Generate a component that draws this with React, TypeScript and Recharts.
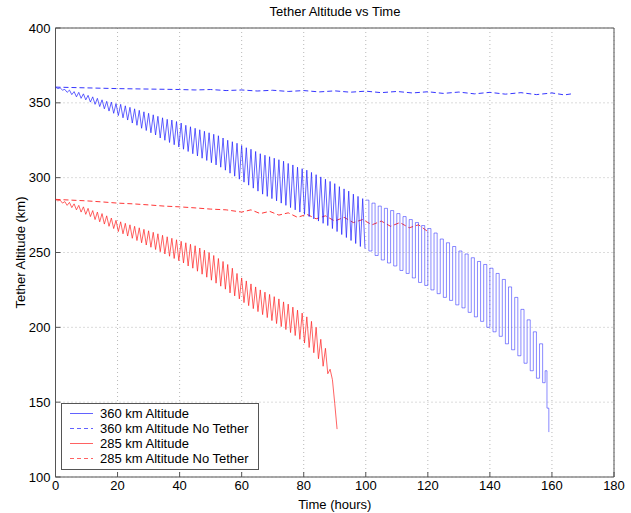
import {
  LineChart, Line, XAxis, YAxis, CartesianGrid, ReferenceArea, Label,
} from "recharts";

const FONT = '"Liberation Sans", Arial, Helvetica, sans-serif';

const X_TICKS = [0, 20, 40, 60, 80, 100, 120, 140, 160, 180];
const Y_TICKS = [100, 150, 200, 250, 300, 350, 400];

// orbital oscillation sampled every 0.75 h (crest, trough, crest, ...)
const SAMPLE_HOURS = 0.75;

// 360 km with tether, 0 – 99.75 h
const tether360Early = [
  360.5, 359.5, 360, 358.5, 359, 357, 358.5, 355.5, 357.5, 354,
  357, 353, 356, 352, 355, 350.5, 354, 349, 353, 347.5,
  352, 346, 351, 344.5, 350.5, 343, 349.5, 341.5, 349, 340,
  348, 338.5, 347, 336.5, 346, 335, 345, 333, 344, 331.5,
  343, 330, 342, 328.5, 341, 326.5, 340, 325, 339, 323.5,
  338.5, 322, 337.5, 320.5, 336.5, 319, 335, 317.5, 334, 316,
  333, 314.5, 332, 313, 331, 311.5, 330, 310, 329, 308.5,
  328, 307, 326.5, 305, 325, 303, 324, 301, 323, 299,
  321.5, 297, 320, 295, 319, 293, 317.5, 291, 316, 289,
  315, 287.5, 314, 286, 313, 284.5, 312, 283, 311, 281.5,
  309.5, 280, 308.5, 278.5, 307, 277, 306, 275.5, 305, 274,
  303.5, 272.5, 302, 271, 300.5, 269.5, 299, 268, 297.5, 266,
  296, 264, 294, 262, 292.5, 260, 291, 258, 289, 256,
  287.5, 254, 286, 252.5,
];

// 360 km with tether, 100 h to re-entry (coarser output, square-wave look)
const tether360Late: [number, number][] = [
  [100, 285], [101, 251], [102, 283], [103, 248], [104, 281], [105, 245],
  [106, 279.5], [107, 243], [108, 278], [109, 241], [110, 276], [111, 238],
  [112, 274], [113, 236], [114, 272], [115, 233], [116, 270], [117, 230],
  [118, 268], [119, 228], [120, 266], [121, 225], [122, 263], [123, 222.5],
  [124, 259], [125, 220], [126, 256.5], [127, 218], [128, 254], [129, 215],
  [130, 251], [131, 213], [132, 249], [133, 210], [134, 246.5], [135, 207],
  [136, 244], [137, 204], [138, 242], [139, 200], [140, 239.5], [141, 197],
  [142, 236], [143, 194], [144, 232], [145, 189], [146, 227], [147, 185],
  [148, 220], [149, 181], [150, 212], [151, 176], [152, 205], [153, 171],
  [154, 197], [155, 166], [156, 189], [157, 163], [157.8, 171], [158.4, 146],
  [159, 130],
];

// 285 km with tether, 0 – 90.75 h
const tether285 = [
  285.5, 284.5, 285, 283, 284, 281.5, 283.5, 280, 282.5, 278.5,
  281.5, 277, 280.5, 275.5, 279.5, 274, 278, 272, 277, 270.5,
  276, 269, 274.5, 267.5, 273, 266, 271.5, 264, 270.5, 262.5,
  269.5, 261, 268.5, 259.5, 267.5, 258, 266.5, 256.5, 265.5, 255,
  264.5, 253.5, 263.5, 252, 262.5, 250.5, 261.5, 249, 260.5, 247.5,
  259.5, 246, 258.5, 244.5, 257.5, 243, 256.5, 241, 255.5, 239.5,
  254.5, 237.5, 253, 235.5, 251.5, 233.5, 250, 231.5, 248, 229.5,
  246, 227.5, 244, 225.5, 242, 223, 239.5, 221, 236, 219,
  233, 216.5, 231, 214.5, 229, 212.5, 227, 210.5, 225, 208.5,
  223.5, 206.5, 222, 204.5, 220.5, 202.5, 219, 200.5, 217, 198.5,
  215.5, 196.5, 213.5, 194.5, 211.5, 192, 209.5, 189.5, 207, 186.5,
  204, 183, 200, 179, 192, 174, 186, 169, 172, 165,
  149, 132,
];

const noTether360: [number, number][] = [
  [0, 360.5], [10, 360], [20, 359.5], [30, 359.2], [40, 358.9], [45, 358.6],
  [50, 358.9], [55, 358.2], [60, 358.6], [65, 357.9], [70, 358.4], [75, 357.6],
  [80, 358.2], [85, 357.3], [90, 358], [95, 357.1], [100, 357.8], [105, 356.8],
  [110, 357.6], [115, 356.6], [120, 357.4], [125, 356.3], [130, 357.2], [135, 356],
  [140, 357], [145, 355.8], [150, 356.8], [155, 355.5], [160, 356.6], [164, 355.3],
  [167, 356.2],
];

const noTether285: [number, number][] = [
  [0, 285.5], [5, 285], [10, 284.5], [15, 283.8], [20, 283], [25, 282.5],
  [30, 281.8], [35, 281], [40, 280.5], [45, 279.8], [50, 279], [55, 278.5],
  [60, 277], [63, 278.5], [66, 276], [69, 277.5], [72, 275], [75, 276.5],
  [78, 273.5], [81, 275.5], [84, 272.5], [87, 274.5], [90, 271], [93, 273.5],
  [96, 270], [99, 272], [102, 268.5], [105, 271], [108, 267.5], [111, 270],
  [114, 266.5], [117, 268.5], [120, 264],
];

const sampled = (alts: number[]) => alts.map((alt, i) => ({ t: i * SAMPLE_HOURS, alt }));
const pairs = (rows: [number, number][]) => rows.map(([t, alt]) => ({ t, alt }));

const BLUE = "#1f1fff";
const RED = "#ff2020";
const FRAME = "#555";

const LEGEND = [
  { label: "360 km Altitude", color: BLUE, dash: undefined },
  { label: "360 km Altitude No Tether", color: BLUE, dash: "4 3" },
  { label: "285 km Altitude", color: RED, dash: undefined },
  { label: "285 km Altitude No Tether", color: RED, dash: "4 3" },
];

export default function App() {
  return (
    <div style={{ position: "absolute", left: 0, top: 0, width: 631, height: 513, background: "#fff", fontFamily: FONT }}>
      <div style={{ position: "absolute", left: 55, width: 560, top: 4, textAlign: "center", fontSize: 13, color: "#000" }}>
        Tether Altitude vs Time
      </div>
      <LineChart width={631} height={513} margin={{ top: 28, right: 17, bottom: 0, left: 10 }}>
        <CartesianGrid stroke="#b8b8b8" strokeDasharray="1 3" />
        <XAxis dataKey="t" type="number" domain={[0, 180]} ticks={X_TICKS} allowDataOverflow
               height={36} axisLine={false} tickLine={{ stroke: FRAME }} tickSize={-5} tickMargin={9}
               tick={{ fill: "#000", fontSize: 13, fontFamily: FONT }}>
          <Label value="Time (hours)" position="insideBottom" offset={4}
                 style={{ fill: "#000", fontSize: 13, fontFamily: FONT }} />
        </XAxis>
        <YAxis type="number" domain={[100, 400]} ticks={Y_TICKS} allowDataOverflow
               width={45.5} axisLine={false} tickLine={{ stroke: FRAME }} tickSize={-5} tickMargin={10}
               tick={{ fill: "#000", fontSize: 13, fontFamily: FONT }}>
          <Label value="Tether Altitude (km)" angle={-90} position="insideLeft" offset={10}
                 style={{ fill: "#000", fontSize: 13, fontFamily: FONT, textAnchor: "middle" }} />
        </YAxis>
        <ReferenceArea x1={0} x2={180} y1={100} y2={400} fill="none" stroke={FRAME} strokeWidth={1} />
        <Line data={pairs(noTether360)} dataKey="alt" stroke={BLUE} strokeWidth={0.9}
              strokeDasharray="5 3" dot={false} isAnimationActive={false} />
        <Line data={pairs(noTether285)} dataKey="alt" stroke={RED} strokeWidth={0.9}
              strokeDasharray="5 3" dot={false} isAnimationActive={false} />
        <Line data={sampled(tether360Early)} dataKey="alt" stroke={BLUE} strokeWidth={0.7}
              dot={false} isAnimationActive={false} />
        <Line data={pairs(tether360Late)} dataKey="alt" type="stepAfter" stroke={BLUE} strokeWidth={0.7}
              strokeOpacity={0.75} dot={false} isAnimationActive={false} />
        <Line data={sampled(tether285)} dataKey="alt" stroke={RED} strokeWidth={0.7}
              dot={false} isAnimationActive={false} />
      </LineChart>
      <div style={{ position: "absolute", left: 61, top: 403, width: 196, height: 65, border: `1px solid ${FRAME}`,
                    background: "#fff", fontSize: 13, color: "#000" }}>
        {LEGEND.map((l, i) => (
          <div key={l.label} style={{ position: "absolute", left: 0, top: 2 + i * 15, height: 15, display: "flex", alignItems: "center", whiteSpace: "nowrap" }}>
            <svg width={38} height={15}>
              <line x1={8} x2={31} y1={7.5} y2={7.5} stroke={l.color} strokeWidth={1} strokeOpacity={0.7} strokeDasharray={l.dash} />
            </svg>
            <span>{l.label}</span>
          </div>
        ))}
      </div>
    </div>
  );
}
